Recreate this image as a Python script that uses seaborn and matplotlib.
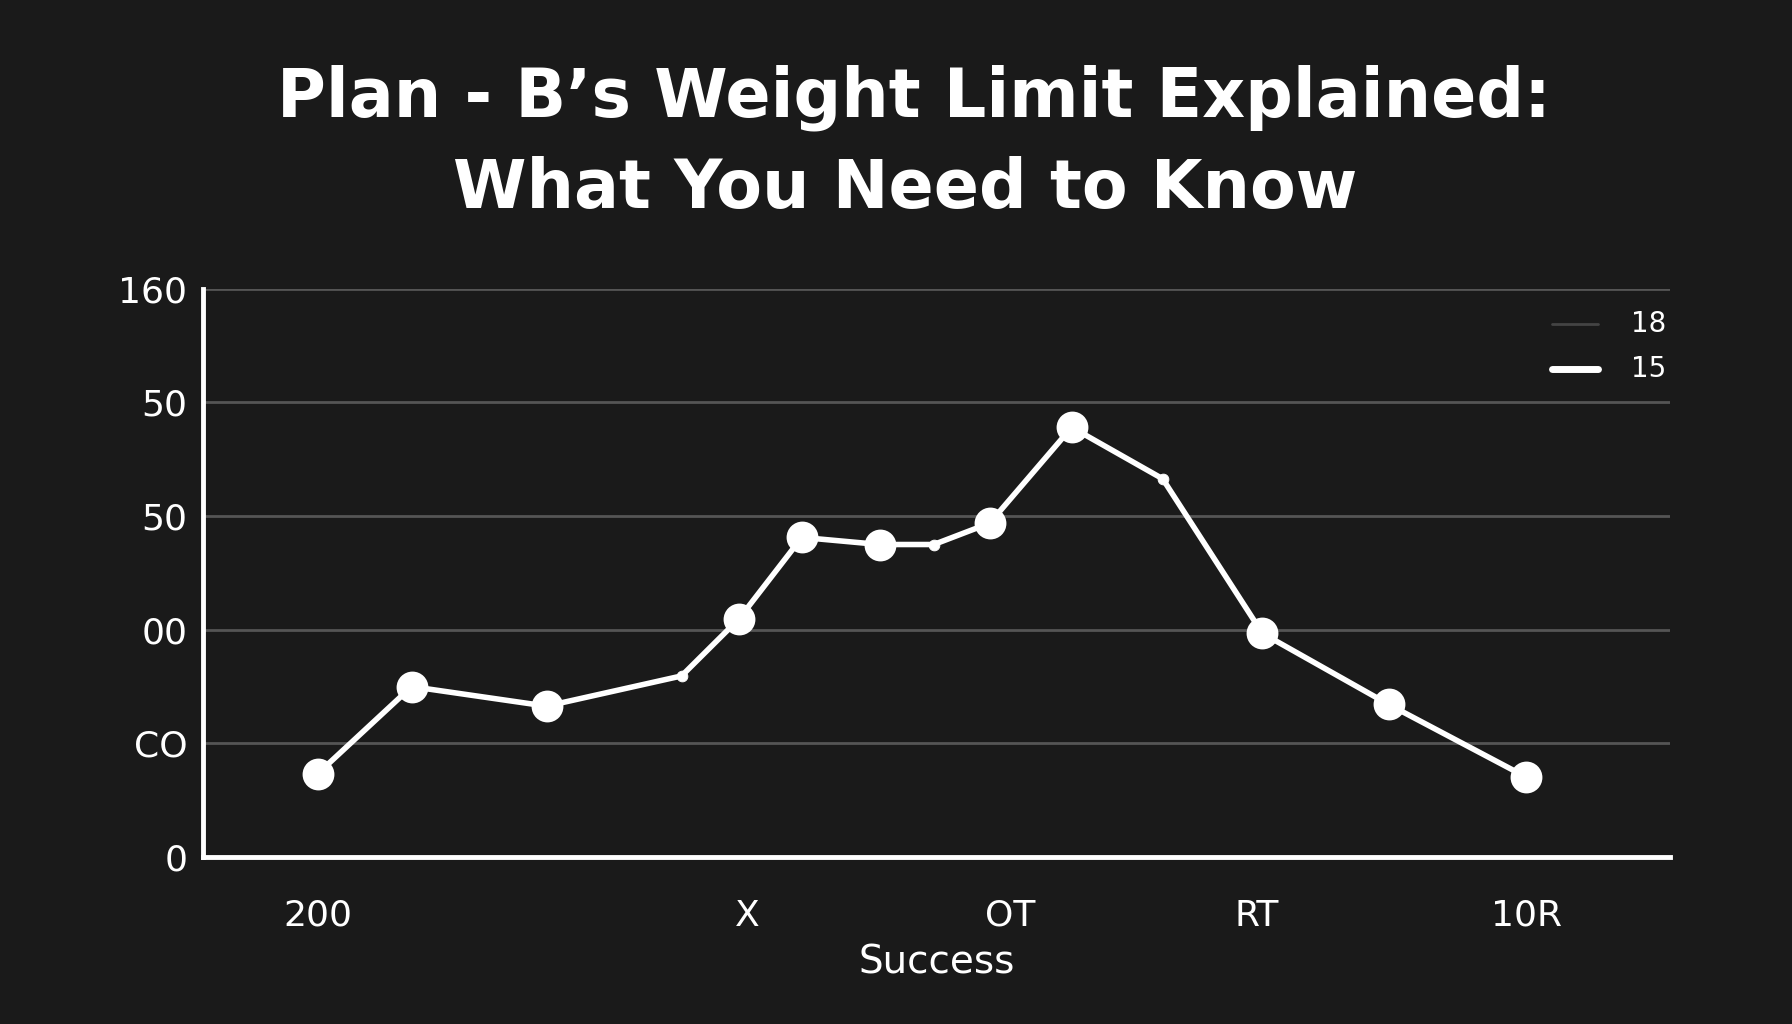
import numpy as np
import pandas as pd
import seaborn as sns
import matplotlib.pyplot as plt

# data
x_pos = [7.8, 14.2, 23.4, 32.6, 36.5, 40.8, 46.1, 49.8, 53.6, 59.2, 65.4, 72.2, 80.8, 90.2]
values = [23.5, 48, 42.5, 51, 67, 90, 88, 88, 94, 121, 106.5, 63, 43, 22.5]
marked = [True, True, True, False, True, True, True, False, True, True, False, True, True, True]

y_ticks = [0, 32, 64, 96, 128, 160]
y_labels = ["0", "CO", "00", "50", "50", "160"]
x_ticks = [7.8, 23.4, 37.1, 55.0, 71.8, 90.2]
x_labels = ["200", "", "X", "OT", "RT", "10R"]

df = pd.DataFrame({"x": x_pos, "y": values, "marked": marked})

bg = "#1a1a1a"
sns.set_theme(style="dark")
plt.rcParams["font.family"] = ["DejaVu Sans"]

fig = plt.figure(figsize=(17.92, 10.24), dpi=100, facecolor=bg)
ax = fig.add_axes([0.1135, 0.163, 0.8185, 0.555])
ax.set_facecolor(bg)

for t in y_ticks[1:]:
    ax.axhline(t, color="#555555", lw=2, zorder=0)

sns.lineplot(data=df, x="x", y="y", ax=ax, color="white", lw=4, zorder=2)
sns.scatterplot(data=df[df["marked"]], x="x", y="y", ax=ax, color="white",
                s=450, edgecolor="white", zorder=3)
sns.scatterplot(data=df[~df["marked"]], x="x", y="y", ax=ax, color="white",
                s=60, edgecolor="white", zorder=3)

ax.set_xlim(0, 100)
ax.set_ylim(0, 160)
ax.set_yticks(y_ticks)
ax.set_yticklabels(y_labels, color="white", fontsize=26)
ax.set_xticks(x_ticks)
ax.set_xticklabels(x_labels, color="white", fontsize=26)
ax.tick_params(axis="both", colors="white", length=8, width=3, labelsize=26)
ax.tick_params(axis="x", pad=22)
ax.set_ylabel("")
ax.set_xlabel("Success", color="white", fontsize=28, labelpad=8)

for s in ["top", "right"]:
    ax.spines[s].set_visible(False)
for s in ["left", "bottom"]:
    ax.spines[s].set_color("white")
    ax.spines[s].set_linewidth(3.5)

# legend-like keys at top right
ax.plot([1378 / 1568 * 100 * 1.0 - 0 - 0, 0], [0, 0], alpha=0)  # placeholder removed below
ax.lines[-1].remove()
fig.add_artist(plt.Line2D([0.866, 0.892], [0.684, 0.684], color="#444444", lw=2))
fig.add_artist(plt.Line2D([0.866, 0.892], [0.640, 0.640], color="white", lw=5))
fig.text(0.910, 0.684, "18", color="white", fontsize=20, va="center")
fig.text(0.910, 0.640, "15", color="white", fontsize=20, va="center")

fig.text(0.51, 0.905, "Plan - B’s Weight Limit Explained:", color="white",
         fontsize=48, fontweight="bold", ha="center", va="center")
fig.text(0.505, 0.815, "What You Need to Know", color="white",
         fontsize=48, fontweight="bold", ha="center", va="center")

fig.savefig("out.png", dpi=100, facecolor=bg)
